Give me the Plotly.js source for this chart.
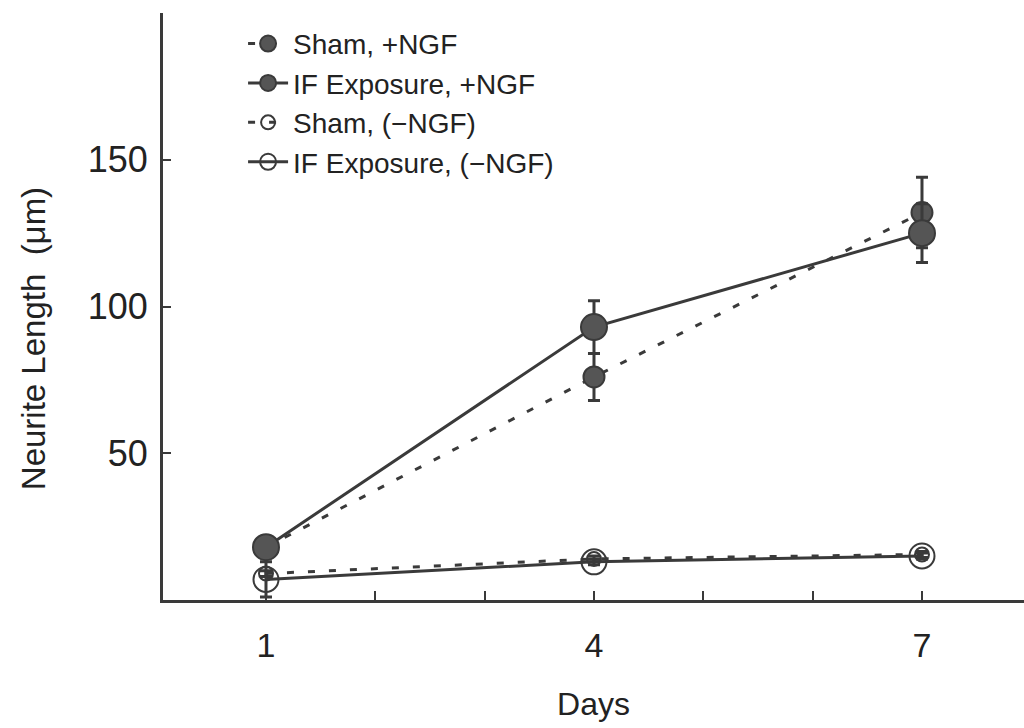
<!DOCTYPE html>
<html><head><meta charset="utf-8">
<script src="https://cdn.plot.ly/plotly-3.0.1.min.js"></script>
<style>body{margin:0;background:#fff}#chart{width:1024px;height:728px}</style>
</head><body><div id="chart"></div>
<script>
const days = [1, 4, 7];
const shamNGF = [18, 76, 132];
const shamNGFerr = [3, 8, 12];
const ifNGF = [18, 93, 125];
const ifNGFerr = [3, 9, 10];
const shamNoNGF = [9, 14, 15.5];
const shamNoNGFerr = [1, 1, 1];
const ifNoNGF = [7, 13, 15];
const ifNoNGFerr = [6, 1, 1];
const names = ['Sham, +NGF', 'IF Exposure, +NGF', 'Sham, (\u2212NGF)', 'IF Exposure, (\u2212NGF)'];
const xTickVals = [1, 2, 3, 4, 5, 6, 7];
const xTickText = ['1', '', '', '4', '', '', '7'];
const yTickVals = [50, 100, 150, 200];
const yTickText = ['50', '100', '150', ''];

const col = '#3a3a3a';
const mk = (y, err, name, dash, sym, size, fill) => ({
  x: days, y: y, name: name, type: 'scatter', mode: 'lines+markers',
  line: {color: col, width: 3, dash: dash},
  marker: {symbol: sym, size: size, color: fill, line: {color: col, width: 2}},
  error_y: {type: 'data', array: err, visible: true, color: col, thickness: 3, width: 6}
});
const data = [
  mk(shamNGF, shamNGFerr, names[0], '7px,14px', 'circle', 21, '#555'),
  mk(ifNGF, ifNGFerr, names[1], 'solid', 'circle', 26, '#555'),
  mk(shamNoNGF, shamNoNGFerr, names[2], '7px,14px', 'circle-open', 14, col),
  mk(ifNoNGF, ifNoNGFerr, names[3], 'solid', 'circle-open', 25, col)
];
const font = {family: 'Liberation Sans, Arial, sans-serif', color: '#222'};
const layout = {
  width: 1024, height: 728,
  margin: {l: 163, r: 0, t: 13, b: 128},
  paper_bgcolor: '#fff', plot_bgcolor: '#fff',
  showlegend: true,
  legend: {x: 0.093, y: 0.99, xanchor: 'left', yanchor: 'top', bgcolor: 'rgba(0,0,0,0)',
           font: Object.assign({}, font, {size: 28}), tracegroupgap: 0, itemwidth: 40},
  xaxis: {range: [0.058, 7.933], showgrid: false, zeroline: false, showline: true,
          linecolor: col, linewidth: 3, ticks: 'inside', ticklen: 9, tickwidth: 2, tickcolor: col,
          tickvals: xTickVals, ticktext: xTickText, ticklabelstandoff: 13,
          tickfont: Object.assign({}, font, {size: 34}),
          title: {text: 'Days', font: Object.assign({}, font, {size: 32}), standoff: 30}},
  yaxis: {range: [0, 200], showgrid: false, zeroline: false, showline: true,
          linecolor: col, linewidth: 3, ticks: 'inside', ticklen: 8, tickwidth: 2, tickcolor: col,
          tickvals: yTickVals, ticktext: yTickText, ticklabelstandoff: 5,
          tickfont: Object.assign({}, font, {size: 36})},
  annotations: [{text: 'Neurite Length  (\u03bcm)', xref: 'paper', yref: 'paper',
                 x: -0.151, y: 0.446, xanchor: 'center', yanchor: 'middle', textangle: -90,
                 showarrow: false, font: Object.assign({}, font, {size: 33})}]
};
Plotly.newPlot('chart', data, layout, {displayModeBar: false, staticPlot: true});
</script></body></html>
